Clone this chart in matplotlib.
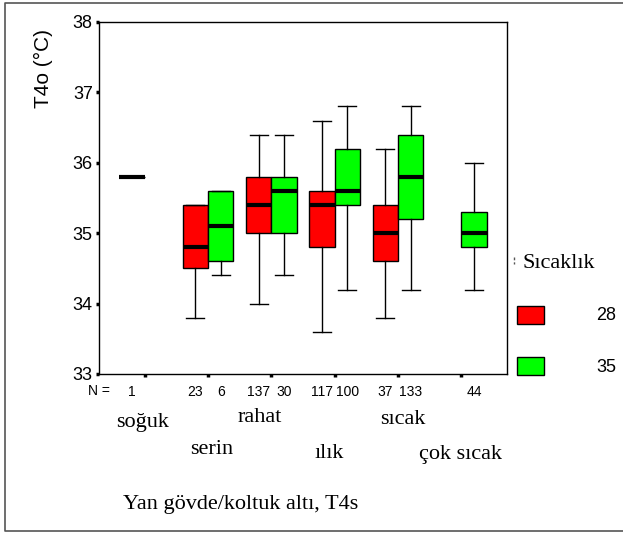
import matplotlib
matplotlib.use("Agg")
import matplotlib.pyplot as plt
from matplotlib.patches import Rectangle
from matplotlib.lines import Line2D

# Comfort categories and counts per thermal condition
categories = ["soğuk", "serin", "rahat", "ılık", "sıcak", "çok sıcak"]
groups = ["28", "35"]
group_colors = ["#ff0000", "#00ff00"]

# Box statistics per group: (category index, whislo, q1, med, q3, whishi, n)
stats_28 = [
    (0, 35.8, 35.8, 35.8, 35.8, 35.8, 1),
    (1, 33.8, 34.5, 34.8, 35.4, 35.4, 23),
    (2, 34.0, 35.0, 35.4, 35.8, 36.4, 137),
    (3, 33.6, 34.8, 35.4, 35.6, 36.6, 117),
    (4, 33.8, 34.6, 35.0, 35.4, 36.2, 37),
]
stats_35 = [
    (1, 34.4, 34.6, 35.1, 35.6, 35.6, 6),
    (2, 34.4, 35.0, 35.6, 35.8, 36.4, 30),
    (3, 34.2, 35.4, 35.6, 36.2, 36.8, 100),
    (4, 34.2, 35.2, 35.8, 36.4, 36.8, 133),
    (5, 34.2, 34.8, 35.0, 35.3, 36.0, 44),
]

y_ticks = [33, 34, 35, 36, 37, 38]

W, H = 623, 534
fig = plt.figure(figsize=(W / 100, H / 100), dpi=100)
ax = fig.add_axes([99 / W, 1 - 374 / H, 408 / W, 352 / H])

offset = 0.2
box_w = 0.4
group_stats = [stats_28, stats_35]
for gi, (gstats, color) in enumerate(zip(group_stats, group_colors)):
    sign = -1 if gi == 0 else 1
    bstats = []
    positions = []
    for cat, lo, q1, med, q3, hi, n in gstats:
        bstats.append(dict(whislo=lo, q1=q1, med=med, q3=q3, whishi=hi, fliers=[]))
        positions.append(cat + sign * offset)
    ax.bxp(bstats, positions=positions, widths=box_w, patch_artist=True,
           showfliers=False, capwidths=0.28,
           boxprops=dict(facecolor=color, edgecolor="black", linewidth=1.0),
           whiskerprops=dict(color="black", linewidth=1.0),
           capprops=dict(color="black", linewidth=1.0),
           medianprops=dict(color="black", linewidth=3.0, solid_capstyle="butt"),
           manage_ticks=False)
    # sample counts under each box
    for (cat, lo, q1, med, q3, hi, n), pos in zip(gstats, positions):
        ax.text(pos, -0.05, str(n), transform=ax.get_xaxis_transform(),
                ha="center", va="center", fontsize=10, family="Liberation Sans")

fig.text(99 / W, 1 - 391 / H, "N =", ha="center", va="center",
         fontsize=10, family="Liberation Sans")

ax.set_xlim(-0.72, 5.72)
ax.set_ylim(33, 38)
ax.set_xticks(range(len(categories)))
ax.set_xticklabels([])
ax.set_yticks(y_ticks)
ax.set_yticklabels([str(t) for t in y_ticks], fontsize=13, family="Liberation Sans")
ax.tick_params(axis="both", direction="out", length=2.5, width=2.5, colors="black", pad=2)
for s in ax.spines.values():
    s.set_linewidth(1.0)
    s.set_color("black")

fig.text(43 / W, 1 - 69 / H, "T4o (°C)", rotation=90, ha="center", va="center",
         fontsize=15, family="Liberation Sans")

# Staggered category labels (x nudge in category units, y in pixels)
label_dx = [-0.04, 0.06, -0.18, -0.09, 0.08, -0.02]
label_py = [422, 450, 417, 453, 420, 454]
for i, (cat, dx, py) in enumerate(zip(categories, label_dx, label_py)):
    ax.text(i + dx, 1 - (py - 22) / 352, cat, transform=ax.get_xaxis_transform(),
            ha="center", va="center", fontsize=16, family="Liberation Serif")

fig.text(241 / W, 1 - 504 / H, "Yan gövde/koltuk altı, T4s", ha="center",
         va="center", fontsize=16, family="Liberation Serif")

# Legend
fig.text(523 / W, 1 - 263 / H, "Sıcaklık", ha="left", va="center",
         fontsize=16, family="Liberation Serif")
fig.lines.append(Line2D([513.5 / W, 513.5 / W], [1 - 257 / H, 1 - 264 / H],
                        transform=fig.transFigure, color="#555555",
                        linewidth=1.0, linestyle=(0, (2, 1.5))))
for label, color, yc in zip(groups, group_colors, [315, 366]):
    fig.patches.append(Rectangle((517 / W, 1 - (yc + 9) / H), 27 / W, 18 / H,
                                 transform=fig.transFigure, facecolor=color,
                                 edgecolor="black", linewidth=1.0))
    fig.text(606 / W, 1 - (yc + 1) / H, label, ha="center", va="center",
             fontsize=13, family="Liberation Sans")

# Outer frame (top, left, bottom)
frame_x = [1.01, 5 / W, 5 / W, 1.01]
frame_y = [1 - 3 / H, 1 - 3 / H, 1 - 531 / H, 1 - 531 / H]
fig.lines.append(Line2D(frame_x, frame_y, transform=fig.transFigure,
                        color="#555555", linewidth=1.2))

fig.savefig("out.png", dpi=100)
